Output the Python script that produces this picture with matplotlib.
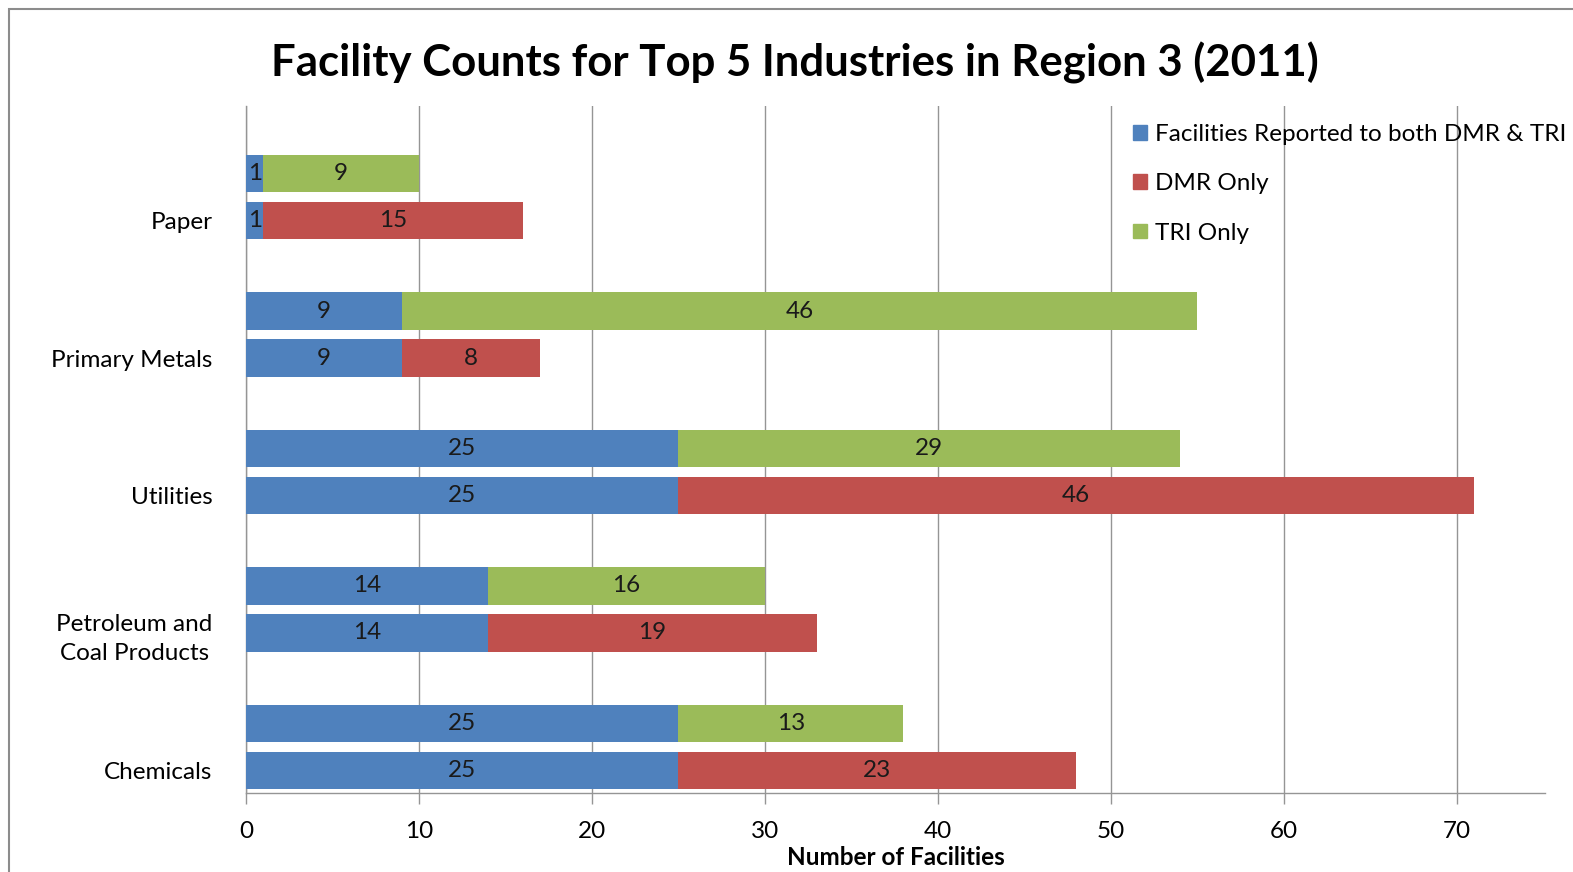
import matplotlib
matplotlib.use("Agg")
import matplotlib.pyplot as plt
import matplotlib.patches as mpatches
import numpy as np

plt.rcParams['font.family'] = ['Lato', 'DejaVu Sans']

# data, bottom to top
categories = ["Chemicals", "Petroleum and\nCoal Products", "Utilities", "Primary Metals", "Paper"]
tri_both = [25, 14, 25, 9, 1]
tri_only = [13, 16, 29, 46, 9]
dmr_both = [25, 14, 25, 9, 1]
dmr_only = [23, 19, 46, 8, 15]
xticks = [0, 10, 20, 30, 40, 50, 60, 70]

BLUE = '#4F81BD'
RED = '#C0504D'
GREEN = '#9BBB59'
GRID = '#959595'

fig = plt.figure(figsize=(15.73, 8.72), dpi=100)
ax = fig.add_axes([0.1564, 0.0906, 0.8258, 0.7878])

# outer chart border (top/left visible)
fig.patches.append(mpatches.Rectangle((0.0057, -0.05), 1.2, 1.0397, transform=fig.transFigure,
                                      fill=False, edgecolor='#8c8c8c', linewidth=1.5))

y = np.arange(len(categories))
off = 0.171
h = 0.272
y_tri = y + off
y_dmr = y - off

ax.barh(y_tri, tri_both, height=h, color=BLUE, zorder=3)
ax.barh(y_tri, tri_only, left=tri_both, height=h, color=GREEN, zorder=3)
ax.barh(y_dmr, dmr_both, height=h, color=BLUE, zorder=3)
ax.barh(y_dmr, dmr_only, left=dmr_both, height=h, color=RED, zorder=3)

def label(ys, lefts, widths):
    for yy, l, w in zip(ys, lefts, widths):
        ax.text(l + w / 2, yy, str(w), ha='center', va='center', fontsize=17.5, color='#1a1a1a', zorder=4)

label(y_tri, [0] * 5, tri_both)
label(y_tri, tri_both, tri_only)
label(y_dmr, [0] * 5, dmr_both)
label(y_dmr, dmr_both, dmr_only)

ax.set_xlim(0, 75.1)
ax.set_ylim(-0.335, 4.662)
ax.set_xticks(xticks)
ax.set_xticklabels([str(t) for t in xticks], fontsize=17.5)
ax.set_yticks(y_dmr)
ax.set_yticklabels(categories, fontsize=17.5, multialignment='center', linespacing=1.45)
ax.tick_params(axis='y', length=0, pad=24)
ax.tick_params(axis='x', length=8, width=1, color=GRID, pad=12)
ax.grid(True, axis='x', color=GRID, linewidth=1, zorder=0)
ax.set_axisbelow(True)
for s in ['top', 'right']:
    ax.spines[s].set_visible(False)
for s in ['left', 'bottom']:
    ax.spines[s].set_color(GRID)
    ax.spines[s].set_linewidth(1)

ax.set_xlabel('Number of Facilities', fontsize=17.5, fontweight='bold', labelpad=3)
fig.suptitle('Facility Counts for Top 5 Industries in Region 3 (2011)', fontsize=31.5,
             fontweight='bold', x=0.5055, y=0.952, va='top')

handles = [mpatches.Patch(color=BLUE, label='Facilities Reported to both DMR & TRI'),
           mpatches.Patch(color=RED, label='DMR Only'),
           mpatches.Patch(color=GREEN, label='TRI Only')]
ax.legend(handles=handles, loc='upper left', bbox_to_anchor=(0.7205, 0.858),
          bbox_transform=fig.transFigure, frameon=False, fontsize=17.5,
          handlelength=0.55, handleheight=0.55, handletextpad=0.35, labelspacing=1.17,
          borderpad=0, borderaxespad=0)

fig.savefig('out.png', dpi=100)
